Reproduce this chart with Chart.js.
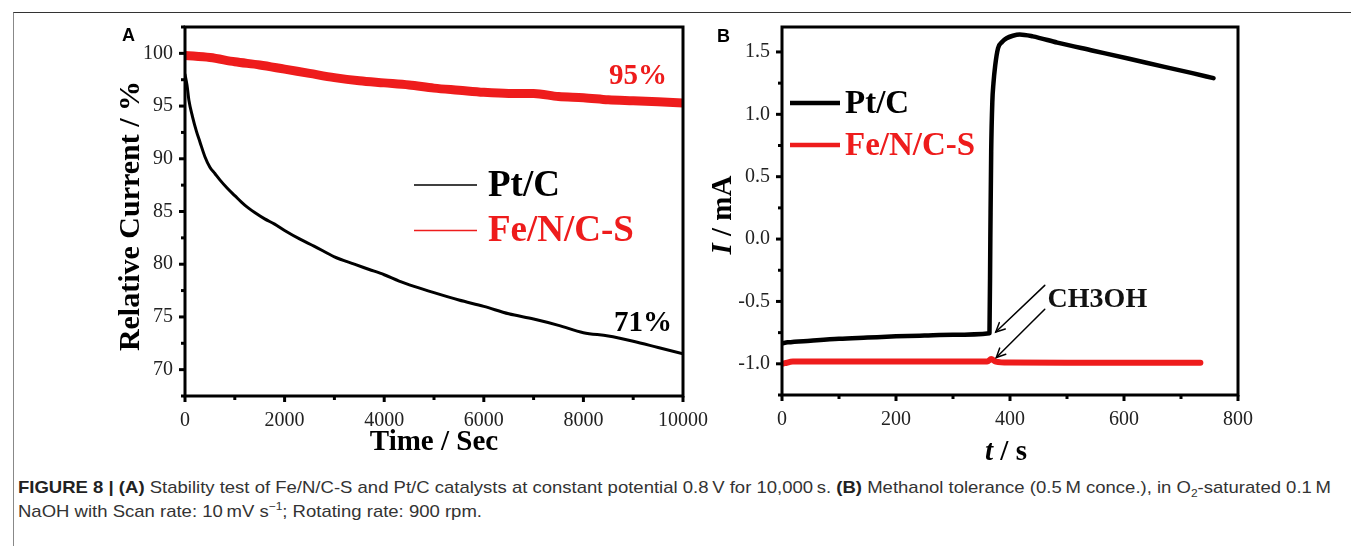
<!DOCTYPE html>
<html>
<head>
<meta charset="utf-8">
<script src="https://cdn.jsdelivr.net/npm/chart.js@4.4.1/dist/chart.umd.min.js"></script>
<style>
  html,body{margin:0;padding:0;background:#fff;}
  body{width:1351px;height:546px;position:relative;overflow:hidden;}
  #frame{position:absolute;left:13px;top:12px;width:1345px;height:540px;border-left:1px solid #888;border-top:1px solid #333;}
  canvas{position:absolute;top:0;}
  #cap{position:absolute;left:18px;top:476px;font-family:"Liberation Sans",Arial,sans-serif;font-size:17px;line-height:24px;color:#333;white-space:nowrap;transform-origin:0 0;}
  #cap b{font-weight:bold;color:#222;}
  #cap sub,#cap sup{font-size:11px;line-height:0;}
</style>
</head>
<body>
<div id="frame"></div>
<canvas id="cB" width="651" height="470" style="left:700px"></canvas>
<canvas id="cA" width="730" height="470" style="left:0px"></canvas>
<div id="cap"><b>FIGURE 8 | (A)</b> Stability test of Fe/N/C-S and Pt/C catalysts at constant potential 0.8&#8201;V for 10,000&#8201;s. <b>(B)</b> Methanol tolerance (0.5&#8201;M conce.), in O<sub>2</sub>-saturated 0.1&#8201;M<br>NaOH with Scan rate: 10&#8201;mV s<sup>&#8722;1</sup>; Rotating rate: 900 rpm.</div>
<script>
// ---------- DATA ----------
// Panel A: stability test (time in s, relative current in %)
const ptA_t = [0, 40, 80, 150, 230, 300, 400, 500, 600, 700, 850, 1000, 1200, 1400, 1600, 1800, 2000, 2300, 2600, 3000, 3400, 3700, 4000, 4300, 4600, 5000, 5500, 6000, 6500, 7000, 7500, 8000, 8500, 9000, 9500, 10000];
const ptA_v = [98.0, 97.0, 95.5, 94.0, 92.6, 91.6, 90.2, 89.2, 88.6, 88.0, 87.2, 86.5, 85.6, 84.9, 84.3, 83.8, 83.2, 82.4, 81.7, 80.7, 80.0, 79.5, 79.0, 78.4, 77.9, 77.3, 76.6, 76.0, 75.3, 74.8, 74.2, 73.5, 73.2, 72.7, 72.1, 71.5];
const feA_t = [0, 500, 1000, 1500, 2000, 2500, 3000, 3500, 4000, 4500, 5000, 5500, 6000, 6500, 7000, 7500, 8000, 8500, 9000, 9500, 10000];
const feA_v = [99.8, 99.6, 99.2, 98.9, 98.5, 98.1, 97.7, 97.4, 97.2, 97.0, 96.7, 96.5, 96.3, 96.2, 96.2, 95.9, 95.8, 95.6, 95.5, 95.4, 95.3];
// Panel B: methanol tolerance (time in s, current in mA)
const ptB_t = [0, 10, 50, 100, 150, 200, 250, 300, 364, 365.5, 367, 369, 371, 374, 379, 386, 394, 405, 417, 440, 483, 546, 609, 671, 720, 757];
const ptB_v = [-0.835, -0.828, -0.815, -0.800, -0.790, -0.780, -0.773, -0.767, -0.755, 0.0, 0.7, 1.1, 1.25, 1.39, 1.53, 1.58, 1.61, 1.63, 1.64, 1.625, 1.575, 1.51, 1.445, 1.38, 1.33, 1.29];
const feB_t = [0, 5, 19, 100, 200, 300, 360, 367, 375, 400, 500, 600, 700, 734];
const feB_v = [-1.0, -0.995, -0.982, -0.982, -0.982, -0.982, -0.982, -0.962, -0.982, -0.99, -0.992, -0.992, -0.992, -0.992];
// Ticks
const xTicksA = [0, 2000, 4000, 6000, 8000, 10000];
const yTicksA = [70, 75, 80, 85, 90, 95, 100];
const xTicksB = [0, 200, 400, 600, 800];
const yTicksB = [-1.0, -0.5, 0.0, 0.5, 1.0, 1.5];
const yLabelsB = ['-1.0', '-0.5', '0.0', '0.5', '1.0', '1.5'];
// Names / texts
const seriesNames = ['Pt/C', 'Fe/N/C-S'];
const endLabelsA = ['71%', '95%'];

// ---------- HELPERS ----------
const RED = '#ee1c1c';
const SERIF = '"Liberation Serif","Times New Roman",serif';
const pairs = (xs, ys) => xs.map((x, i) => ({x: x, y: ys[i]}));
const mids = (arr) => { const out = []; for (let i = 0; i < arr.length - 1; i++) out.push((arr[i] + arr[i+1]) / 2); return out; };

function drawMixed(ctx, parts, cx, cy, rot) {
  ctx.save();
  ctx.translate(cx, cy);
  if (rot) ctx.rotate(rot);
  let total = 0;
  parts.forEach(p => { ctx.font = p.font; total += ctx.measureText(p.text).width; });
  let x = -total / 2;
  ctx.textBaseline = 'middle';
  ctx.textAlign = 'left';
  parts.forEach(p => { ctx.font = p.font; ctx.fillStyle = p.color || '#000'; ctx.fillText(p.text, x, 0); x += ctx.measureText(p.text).width; });
  ctx.restore();
}

function arrow(ctx, x1, y1, x2, y2) {
  ctx.save();
  ctx.strokeStyle = '#000'; ctx.lineWidth = 1.5; ctx.lineCap = 'round';
  ctx.beginPath(); ctx.moveTo(x1, y1); ctx.lineTo(x2, y2); ctx.stroke();
  const a = Math.atan2(y2 - y1, x2 - x1), L = 10, w = 0.45;
  ctx.beginPath();
  ctx.moveTo(x2 - L * Math.cos(a - w), y2 - L * Math.sin(a - w));
  ctx.lineTo(x2, y2);
  ctx.lineTo(x2 - L * Math.cos(a + w), y2 - L * Math.sin(a + w));
  ctx.stroke();
  ctx.restore();
}

function makeDecor(spec) {
  return {
    id: 'decor',
    afterDraw(chart) {
      const ctx = chart.ctx, ca = chart.chartArea, xs = chart.scales.x, ys = chart.scales.y;
      ctx.save();
      // frame
      ctx.strokeStyle = '#000'; ctx.lineWidth = 3;
      ctx.strokeRect(ca.left, ca.top, ca.right - ca.left, ca.bottom - ca.top);
      // ticks
      ctx.lineWidth = 3; ctx.lineCap = 'butt';
      const tk = (vals, len, axis) => vals.forEach(v => {
        ctx.beginPath();
        if (axis === 'x') { const p = xs.getPixelForValue(v); ctx.moveTo(p, ca.bottom); ctx.lineTo(p, ca.bottom + len); }
        else { const p = ys.getPixelForValue(v); ctx.moveTo(ca.left, p); ctx.lineTo(ca.left - len, p); }
        ctx.stroke();
      });
      tk(spec.xMajor, 6, 'x'); tk(spec.xMinor, 4, 'x');
      tk(spec.yMajor, 6, 'y'); tk(spec.yMinor, 4, 'y');
      // axis titles
      drawMixed(ctx, spec.xTitle, spec.xTitlePos[0], spec.xTitlePos[1], 0);
      drawMixed(ctx, spec.yTitle, spec.yTitlePos[0], spec.yTitlePos[1], -Math.PI / 2);
      // panel letter
      ctx.font = 'bold 18px "Liberation Sans",Arial,sans-serif';
      ctx.fillStyle = '#000'; ctx.textAlign = 'left'; ctx.textBaseline = 'alphabetic';
      ctx.fillText(spec.letter[0], spec.letter[1], spec.letter[2]);
      // legend
      const lg = spec.legend;
      lg.items.forEach((it, i) => {
        const y = ca.top + lg.y0 + i * lg.dy;
        ctx.strokeStyle = it.color; ctx.lineWidth = lg.lw; ctx.lineCap = 'butt';
        ctx.beginPath(); ctx.moveTo(ca.left + lg.x0, y); ctx.lineTo(ca.left + lg.x1, y); ctx.stroke();
        ctx.font = lg.font; ctx.fillStyle = it.color; ctx.textBaseline = 'middle'; ctx.textAlign = 'left';
        ctx.fillText(it.text, ca.left + lg.tx, y + 1);
      });
      // annotations
      (spec.texts || []).forEach(t => {
        ctx.font = t.font; ctx.fillStyle = t.color; ctx.textBaseline = 'middle'; ctx.textAlign = t.align || 'center';
        ctx.fillText(t.text, xs.getPixelForValue(t.x), ys.getPixelForValue(t.y));
      });
      (spec.arrows || []).forEach(a => {
        arrow(ctx, xs.getPixelForValue(a[0]), ys.getPixelForValue(a[1]), xs.getPixelForValue(a[2]), ys.getPixelForValue(a[3]));
      });
      ctx.restore();
    }
  };
}

function scaleOpts(min, max, ticks, fmt, pad, isX, fitSize) {
  return {
    type: 'linear', min: min, max: max,
    grid: {display: false, drawTicks: false},
    border: {display: false},
    ticks: {font: {family: SERIF, size: 20}, color: '#222', padding: pad, maxRotation: 0, autoSkip: false,
            callback: fmt},
    afterBuildTicks: s => { s.ticks = ticks.map(v => ({value: v})); },
    afterFit: s => {
      if (isX) { s.height = fitSize; s.paddingLeft = 0; s.paddingRight = 0; }
      else { s.width = fitSize; s.paddingTop = 0; s.paddingBottom = 0; }
    }
  };
}

const lineDs = (label, data, color, w) => ({
  label: label, data: data, borderColor: color, backgroundColor: color, borderWidth: w,
  pointRadius: 0, fill: false, cubicInterpolationMode: 'monotone', borderJoinStyle: 'round', borderCapStyle: 'round'
});

// ---------- PANEL A ----------
new Chart(document.getElementById('cA'), {
  type: 'line',
  data: {datasets: [
    lineDs(seriesNames[1], pairs(feA_t, feA_v), RED, 9),
    lineDs(seriesNames[0], pairs(ptA_t, ptA_v), '#000', 3)
  ]},
  options: {
    responsive: false, animation: false, devicePixelRatio: 1,
    layout: {padding: {left: 0, top: 27, right: 730 - 683, bottom: 0}},
    plugins: {legend: {display: false}, tooltip: {enabled: false}},
    scales: {
      x: scaleOpts(0, 10000, xTicksA, v => String(v), 13, true, 74),
      y: scaleOpts(67.5, 102.5, yTicksA, v => String(v), 12, false, 185)
    }
  },
  plugins: [makeDecor({
    xMajor: xTicksA, xMinor: mids(xTicksA),
    yMajor: yTicksA, yMinor: [67.5].concat(mids(yTicksA)).concat([102.5]),
    xTitle: [{text: 'Time / Sec', font: 'bold 29px ' + SERIF}], xTitlePos: [434, 443],
    yTitle: [{text: 'Relative Current / %', font: 'bold 30px ' + SERIF}], yTitlePos: [131, 216],
    letter: ['A', 122, 41],
    legend: {x0: 229, x1: 292, tx: 303, y0: 158, dy: 45.5, lw: 1.5, font: 'bold 37px ' + SERIF,
             items: [{text: seriesNames[0], color: '#000'}, {text: seriesNames[1], color: RED}]},
    texts: [
      {text: endLabelsA[1], x: 9095, y: 97.8, font: 'bold 29px ' + SERIF, color: RED},
      {text: endLabelsA[0], x: 9195, y: 74.4, font: 'bold 29px ' + SERIF, color: '#000'}
    ]
  })]
});

// ---------- PANEL B ----------
new Chart(document.getElementById('cB'), {
  type: 'line',
  data: {datasets: [
    lineDs(seriesNames[1], pairs(feB_t, feB_v), RED, 6),
    lineDs(seriesNames[0], pairs(ptB_t, ptB_v), '#000', 4.5)
  ]},
  options: {
    responsive: false, animation: false, devicePixelRatio: 1,
    layout: {padding: {left: 0, top: 27, right: 651 - 538, bottom: 0}},
    plugins: {legend: {display: false}, tooltip: {enabled: false}},
    scales: {
      x: scaleOpts(0, 800, xTicksB, v => String(v), 13, true, 75),
      y: scaleOpts(-1.25, 1.7, yTicksB, (v, i) => yLabelsB[i], 12, false, 82)
    }
  },
  plugins: [makeDecor({
    xMajor: xTicksB, xMinor: mids(xTicksB),
    yMajor: yTicksB, yMinor: [-1.25].concat(mids(yTicksB)),
    xTitle: [{text: 't', font: 'italic bold 29px ' + SERIF}, {text: ' / s', font: 'bold 29px ' + SERIF}], xTitlePos: [306, 453],
    yTitle: [{text: 'I', font: 'italic bold 29px ' + SERIF}, {text: ' / mA', font: 'bold 29px ' + SERIF}], yTitlePos: [24, 215],
    letter: ['B', 17, 42],
    legend: {x0: 8, x1: 58, tx: 63, y0: 76, dy: 42, lw: 4.5, font: 'bold 33px ' + SERIF,
             items: [{text: seriesNames[0], color: '#000'}, {text: seriesNames[1], color: RED}]},
    texts: [
      {text: 'CH3OH', x: 466, y: -0.49, font: 'bold 28px ' + SERIF, color: '#111', align: 'left'}
    ],
    arrows: [[461, -0.371, 375, -0.745], [461, -0.563, 376, -0.95]]
  })]
});

// fit caption width to the reference line length
(function(){
  const cap = document.getElementById('cap');
  const w = cap.getBoundingClientRect().width;
  const k = 1313 / w;
  cap.style.transform = 'scaleX(' + k + ')';
})();
</script>
</body>
</html>
